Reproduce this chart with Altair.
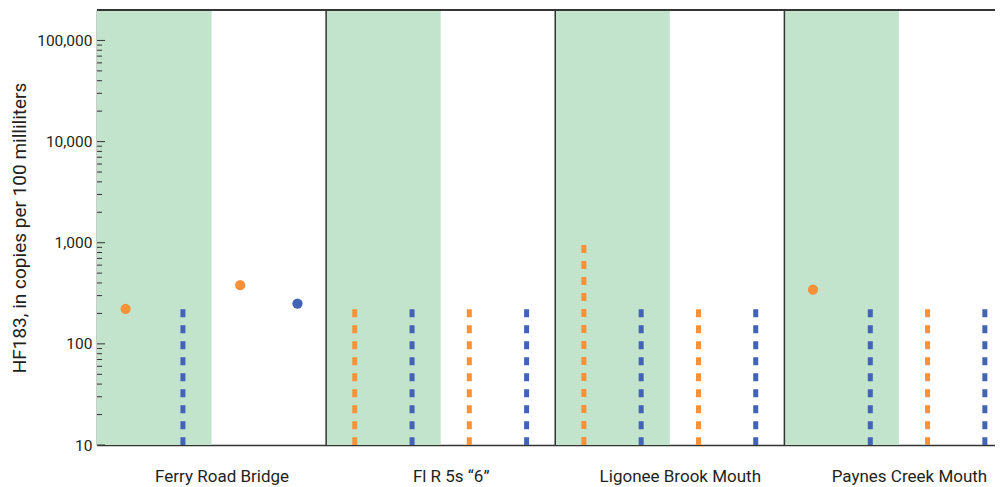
import json
import altair as alt
import pandas as pd

# ---------------- data ----------------
site_names = ["Ferry Road Bridge", "Fl R 5s \u201c6\u201d", "Ligonee Brook Mouth", "Paynes Creek Mouth"]
sample_series = ["orange", "blue", "orange", "blue"]   # four samples per site
# HF183 values (copies per 100 mL); non-detects are given at their reporting level
ferry_values = [222, 220, 380, 250]
ferry_detected = [True, False, True, True]
flr_values = [220, 220, 220, 220]
flr_detected = [False, False, False, False]
ligonee_values = [950, 220, 220, 220]
ligonee_detected = [False, False, False, False]
paynes_values = [343, 220, 220, 220]
paynes_detected = [True, False, False, False]

y_major = [10, 100, 1000, 10000, 100000]
y_min, y_max = 10, 200000

all_values = [ferry_values, flr_values, ligonee_values, paynes_values]
all_detected = [ferry_detected, flr_detected, ligonee_detected, paynes_detected]

rows = []
for i, site in enumerate(site_names):
    for j, series in enumerate(sample_series):
        rows.append({"site": site, "pos": 4 * i + j + 0.5, "value": all_values[i][j],
                     "detected": all_detected[i][j], "series": series, "low": y_min})
df = pd.DataFrame(rows)
panels = pd.DataFrame({"start": [4 * i for i in range(len(site_names))],
                       "mid": [4 * i + 2 for i in range(len(site_names))]})
bounds = pd.DataFrame({"b": [4 * i for i in range(1, len(site_names))]})

minor = []
for m in y_major:
    for k in range(2, 10):
        v = m * k
        if v < y_max:
            minor.append(v)
ticks_major = pd.DataFrame({"t": y_major})
ticks_minor = pd.DataFrame({"t": minor})

# ---------------- style ----------------
W, H = 898, 435
FONT = "Roboto"
TXT = "#231F20"
AX = "#333333"
ORANGE = "#F7923A"
BLUE = "#4263B6"
GREEN = "#C2E3CC"
n_quarters = 4 * len(site_names)
x_dom_max = n_quarters * W / 916.5   # the last panel runs past the right edge

xscale = alt.Scale(domain=[0, x_dom_max], nice=False, zero=False)
yscale = alt.Scale(type="log", domain=[y_min, y_max], nice=False)

label_expr = json.dumps(site_names) + "[round((datum.value - 2) / 4)]"

xaxis = alt.Axis(values=[4 * i + 2 for i in range(len(site_names))], labelExpr=label_expr,
                 ticks=False, grid=False, title=None, labelFont=FONT, labelFontSize=17,
                 labelColor=TXT, labelPadding=23, labelOffset=10, domainColor=AX,
                 domainWidth=1.5, labelFlush=False)
yaxis = alt.Axis(values=y_major, format=",", ticks=False, grid=False,
                 title="HF183, in copies per 100 milliliters", titleFont=FONT,
                 titleFontSize=19, titleFontWeight="normal", titleColor=TXT, titlePadding=7,
                 labelFont=FONT, labelFontSize=15.5, labelColor=TXT, labelPadding=5,
                 domainColor=AX, domainWidth=1.5)

green = alt.Chart(panels).mark_rect(color=GREEN).encode(
    x=alt.X("start:Q", scale=xscale, axis=xaxis),
    x2="mid:Q",
    y=alt.value(0), y2=alt.value(H))

blines = alt.Chart(bounds).mark_rule(color=AX, strokeWidth=1.5).encode(
    x=alt.X("b:Q", scale=xscale), y=alt.value(0), y2=alt.value(H))

topline = alt.Chart(bounds).mark_rule(color=AX, strokeWidth=1.5).encode(
    x=alt.value(0), x2=alt.value(W), y=alt.value(0))

color_scale = alt.Scale(domain=["orange", "blue"], range=[ORANGE, BLUE])

dashes = alt.Chart(df).transform_filter("!datum.detected").mark_rule(
    strokeWidth=5, strokeDash=[8, 8], strokeCap="butt").encode(
    x=alt.X("pos:Q", scale=xscale),
    y=alt.Y("value:Q", scale=yscale, axis=yaxis),
    y2="low:Q",
    color=alt.Color("series:N", scale=color_scale, legend=None))

points = alt.Chart(df).transform_filter("datum.detected").mark_circle(
    size=105, opacity=1).encode(
    x=alt.X("pos:Q", scale=xscale),
    y=alt.Y("value:Q", scale=yscale),
    color=alt.Color("series:N", scale=color_scale, legend=None))

tmaj = alt.Chart(ticks_major).mark_rule(color=AX, strokeWidth=1).encode(
    y=alt.Y("t:Q", scale=yscale), x=alt.value(0), x2=alt.value(8))
tmin = alt.Chart(ticks_minor).mark_rule(color=AX, strokeWidth=1).encode(
    y=alt.Y("t:Q", scale=yscale), x=alt.value(0), x2=alt.value(5))

chart = alt.layer(green, blines, topline, dashes, points, tmaj, tmin).properties(
    width=W, height=H,
    autosize=alt.AutoSizeParams(type="none"),
    padding={"left": 89, "top": 2, "right": 0, "bottom": 42},
).configure_view(stroke=None).configure(background="white")

chart.save("out.html", embed_options={"renderer": "svg", "actions": False})
